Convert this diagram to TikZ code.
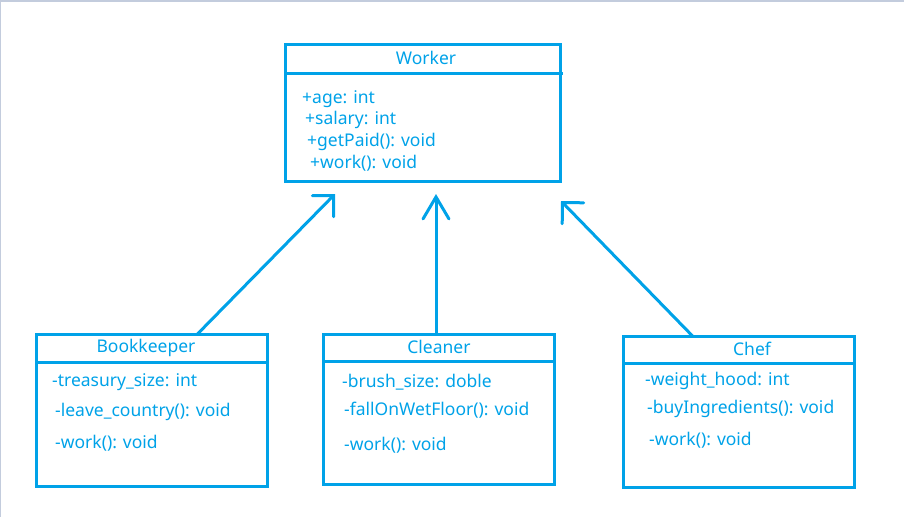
\documentclass[tikz,border=0pt]{standalone}
\usepackage{fontspec}
\setmainfont{Noto Sans}
\usetikzlibrary{arrows.meta}
\definecolor{uml}{HTML}{00A2E8}
\definecolor{frame}{HTML}{C3CCDD}
\begin{document}
\begin{tikzpicture}[x=1pt,y=-1pt,
  classbox/.style={draw=uml, line width=3pt, rectangle, inner sep=0pt, outer sep=0pt, anchor=north west},
  divider/.style={draw=uml, line width=3pt},
  title/.style={text=uml, font=\fontsize{17.5}{20}\selectfont, inner sep=0pt, anchor=center},
  member/.style={text=uml, font=\fontsize{17.5}{20}\selectfont, inner sep=0pt, anchor=west},
  inh/.style={draw=uml, line width=3pt, -{Straight Barb[length=15pt, width=30pt, line cap=round]}},
  inhv/.style={draw=uml, line width=3pt, -{Straight Barb[length=22pt, width=26pt, line cap=round]}}]
\useasboundingbox (0,0) rectangle (904,517);
\draw[frame, line width=2pt] (0,1) -- (904,1);
\draw[frame, line width=1pt] (0.5,0) -- (0.5,517);

% Worker
\node[classbox, minimum width=275pt, minimum height=137pt] (worker) at (285.5,44.5) {};
\draw[divider] (worker.west |- 0,73) -- ([xshift=2pt]worker.east |- 0,73);
\node[title] (wt) at (426,58) {Worker};
\node[member] (w1) at (302,99) {+age: int};
\node[member] (w2) at (305,120) {+salary: int};
\node[member] (w3) at (307,142) {+getPaid(): void};
\node[member] (w4) at (310,163) {+work(): void};

% Bookkeeper
\node[classbox, minimum width=231pt, minimum height=152pt] (book) at (36.5,334.5) {};
\draw[divider] (book.west |- 0,362) -- (book.east |- 0,362);
\node[title] (bt) at (146,348) {Bookkeeper};
\node[member] (b1) at (52,382) {-treasury\_size: int};
\node[member] (b2) at (55,412) {-leave\_country(): void};
\node[member] (b3) at (55,443) {-work(): void};

% Cleaner
\node[classbox, minimum width=231pt, minimum height=150pt] (clean) at (323.5,334.5) {};
\draw[divider] (clean.west |- 0,361) -- (clean.east |- 0,361);
\node[title] (ct) at (439,347) {Cleaner};
\node[member] (c1) at (342,382) {-brush\_size: doble};
\node[member] (c2) at (344,410) {-fallOnWetFloor(): void};
\node[member] (c3) at (344,445) {-work(): void};

% Chef
\node[classbox, minimum width=231pt, minimum height=151pt] (chef) at (623.5,336.5) {};
\draw[divider] (chef.west |- 0,363) -- (chef.east |- 0,363);
\node[title] (ht) at (752,349) {Chef};
\node[member] (h1) at (645,381) {-weight\_hood: int};
\node[member] (h2) at (647,409) {-buyIngredients(): void};
\node[member] (h3) at (649,440) {-work(): void};

% inheritance arrows
\coordinate (tipL) at (335,194);
\coordinate (tipM) at (436,194);
\coordinate (tipR) at (561,201);
\draw[inh] ([xshift=45pt]book.north) -- (tipL);
\draw[inhv] ([xshift=-3pt]clean.north) -- (tipM);
\draw[inh] ([xshift=-46pt]chef.north) -- (tipR);
\end{tikzpicture}
\end{document}
